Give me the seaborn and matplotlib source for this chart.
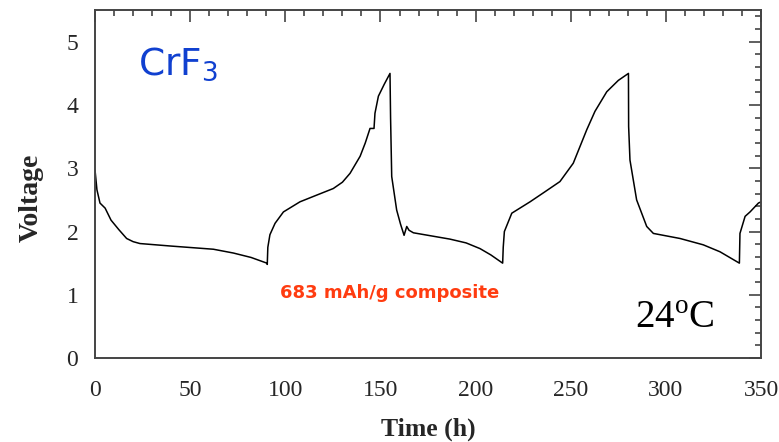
import matplotlib
matplotlib.use("Agg")
import matplotlib.pyplot as plt
from matplotlib.ticker import MultipleLocator
import seaborn as sns
import pandas as pd

time_h = [0, 1, 2.6, 5.3, 8.4, 12.5, 16.6, 20, 23.6, 40, 62.2, 72.7, 82, 90.3,
          90.5, 90.8, 91.9, 94.6, 99, 107.7, 116, 125.2, 130, 134, 139.3, 142, 144.5,
          146.6, 147.1, 148.9, 152, 155,
          155.3, 155.9, 158.5, 160.5, 162.4, 163.8, 165, 167.3, 186.5, 195, 202.3, 208, 214.2,
          214.5, 215.1, 219, 228.6, 236, 244.3, 251.3, 258.4, 262.7, 268.9, 275, 280.3,
          280.4, 281.1, 284.6, 289.9, 293.4, 307.4, 319.6, 328.4, 338.6,
          338.9, 341.6, 344.2, 348.6, 350]
voltage = [2.97, 2.66, 2.45, 2.37, 2.18, 2.03, 1.89, 1.84, 1.81, 1.77, 1.72, 1.66, 1.59, 1.50,
           1.48, 1.75, 1.95, 2.13, 2.31, 2.47, 2.57, 2.68, 2.78, 2.92, 3.19, 3.40, 3.63,
           3.63, 3.87, 4.14, 4.33, 4.50,
           3.80, 2.87, 2.34, 2.12, 1.94, 2.08, 2.02, 1.98, 1.88, 1.82, 1.73, 1.63, 1.50,
           1.75, 2.00, 2.29, 2.47, 2.62, 2.79, 3.08, 3.61, 3.90, 4.21, 4.39, 4.50,
           3.66, 3.13, 2.50, 2.08, 1.97, 1.89, 1.79, 1.68, 1.50,
           1.97, 2.24, 2.31, 2.45, 2.47]

df = pd.DataFrame({"Time (h)": time_h, "Voltage": voltage})

sns.set_style("white")
plt.rcParams['font.family'] = ['Liberation Serif', 'DejaVu Serif']

fig = plt.figure(figsize=(7.79, 4.42), dpi=100)
ax = fig.add_axes([0.122, 0.19, 0.855, 0.787])
sns.lineplot(data=df, x="Time (h)", y="Voltage", sort=False, estimator=None,
             color="black", linewidth=1.1, ax=ax)

ax.set_xlim(0, 350)
ax.set_ylim(0, 5.5)
ax.xaxis.set_major_locator(MultipleLocator(50))
ax.xaxis.set_minor_locator(MultipleLocator(10))
ax.yaxis.set_major_locator(MultipleLocator(1))
ax.yaxis.set_minor_locator(MultipleLocator(0.2))
ax.tick_params(which="both", direction="in", top=True, right=True,
               color="#444444", width=1.2, labelsize=17)
ax.tick_params(which="major", length=8.5)
ax.tick_params(which="minor", length=4.3)
ax.tick_params(axis="x", which="both", pad=16)
ax.tick_params(axis="y", which="both", pad=12)
for s in ax.spines.values():
    s.set_color("#444444")
    s.set_linewidth(1.4)

ax.set_xlabel("Time (h)", fontsize=18.5, fontweight="bold", labelpad=12)
ax.set_ylabel("Voltage", fontsize=20, fontweight="bold")
ax.yaxis.set_label_coords(-0.077, 0.46)

ax.text(22.6, 4.48, r"CrF$_\mathregular{3}$", fontsize=27, color="#1040d0",
        family=["DejaVu Sans"], ha="left", va="baseline")
ax.text(97, 0.95, "683 mAh/g composite", fontsize=13, color="#ff3c10",
        family=["DejaVu Sans"], fontweight="bold", ha="left", va="baseline")
ax.text(284, 0.47, r"24$^\mathregular{o}$C", fontsize=28, color="black",
        ha="left", va="baseline")

fig.savefig("out.png", dpi=100)
